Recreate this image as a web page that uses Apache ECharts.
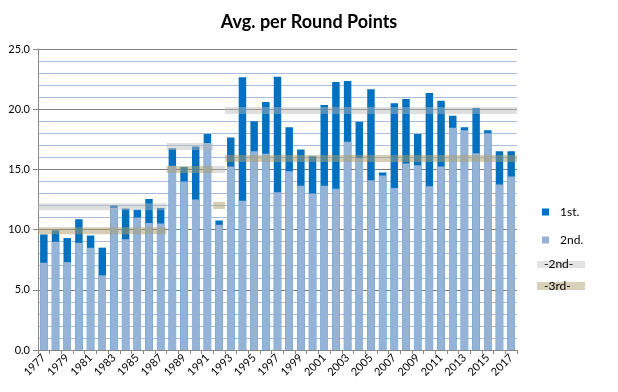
<!DOCTYPE html>
<html>
<head>
<meta charset="utf-8">
<script src="https://cdn.jsdelivr.net/npm/echarts@6/dist/echarts.min.js"></script>
<style>html,body{margin:0;padding:0;background:#fff}#c{width:618px;height:392px}</style>
</head>
<body>
<div id="c"></div>
<script>
const years = [];
for (let y = 1977; y <= 2017; y++) years.push(String(y));
// top of bar ("1st.") and top of light part ("2nd.")
const firstVals = [9.6,9.95,9.3,10.85,9.5,8.5,12.0,11.75,11.65,12.55,11.8,16.75,15.2,16.9,17.95,10.75,17.65,22.65,19.0,20.6,22.7,18.5,16.65,16.1,20.35,22.25,22.35,18.95,21.65,14.75,20.5,20.85,17.95,21.35,20.7,19.45,18.5,20.1,18.25,16.5,16.5];
const secondVals = [7.25,9.0,7.3,8.9,8.5,6.2,11.8,9.2,11.0,10.55,10.5,15.3,14.0,12.5,17.2,10.4,15.25,12.4,16.5,16.3,13.1,14.85,13.65,13.0,13.65,13.4,17.3,15.95,14.1,14.5,13.45,15.5,15.35,13.6,15.25,18.45,18.25,16.35,18.0,13.75,14.4];
// reference band segments
const segFrom = [1977,1988,1992,1993];
const segTo = [1987,1991,1992,2017];
const level2nd = [11.9,16.9,15.0,19.9];
const level3rd = [9.9,15.0,12.0,15.9];
const yTicks = [0,5,10,15,20,25];

const firstYear = 1977;
function bandData(levels){
  const out = [];
  for (let i = 0; i < segFrom.length; i++) {
    out.push([segFrom[i]-firstYear, levels[i]]);
    out.push([segTo[i]-firstYear+1, levels[i]]);
    out.push([segTo[i]-firstYear+1, '-']);
  }
  return out;
}
const gray = 'rgba(185,185,185,0.45)';
const tan = 'rgba(172,158,108,0.5)';

const chart = echarts.init(document.getElementById('c'));
chart.setOption({
  animation:false,
  title:{text:'Avg. per Round Points',left:'center',top:8,textStyle:{fontFamily:'Lato',fontWeight:'bold',fontSize:18,color:'#000'}},
  grid:{left:38,right:101,top:49,bottom:42},
  legend:{orient:'vertical',left:537,top:201,itemWidth:7,itemHeight:7,itemGap:16,icon:'rect',
    data:['1st.','2nd.'],textStyle:{fontFamily:'Lato',fontSize:12,color:'#000',padding:[4,0,0,6]}},
  xAxis:[{type:'category',data:years,
    axisLine:{lineStyle:{color:'#868686'}},
    axisTick:{show:true,interval:0,length:4,lineStyle:{color:'#868686'}},
    axisLabel:{interval:1,rotate:45,fontFamily:'Lato',fontSize:11,color:'#000',margin:6}},
   {type:'value',min:0,max:years.length,show:false}],
  yAxis:{type:'value',min:yTicks[0],max:yTicks[yTicks.length-1],interval:5,
    axisLine:{show:true,lineStyle:{color:'#868686'}},
    axisLabel:{formatter:v=>v.toFixed(1),fontFamily:'Lato',fontSize:11,color:'#000',margin:8},
    splitLine:{lineStyle:{color:'#808080'}},
    minorTick:{show:false,splitNumber:5},
    minorSplitLine:{show:true,lineStyle:{color:'#a9bde0'}}},
  series:[
    {name:'1st.',type:'bar',data:firstVals,barWidth:'64%',barGap:'-100%',itemStyle:{color:'#0070c0'},z:2},
    {name:'2nd.',type:'bar',data:secondVals,barWidth:'64%',barGap:'-100%',itemStyle:{color:'#95b3d7'},z:3},
    {name:'-2nd-',type:'line',xAxisIndex:1,data:bandData(level2nd),symbol:'none',silent:true,z:5,
      lineStyle:{color:gray,width:7,cap:'butt'}},
    {name:'-3rd-',type:'line',xAxisIndex:1,data:bandData(level3rd),symbol:'none',silent:true,z:5,
      lineStyle:{color:tan,width:7,cap:'butt'}}
  ],
  graphic:[
    {type:'rect',left:537,top:261,shape:{width:48,height:7},style:{fill:'#e3e3e3'}},
    {type:'text',left:544,top:258,style:{text:'-2nd-',font:'12px Lato',fill:'#000'}},
    {type:'rect',left:537,top:282,shape:{width:48,height:8},style:{fill:'#d8d1b9'}},
    {type:'text',left:544,top:280,style:{text:'-3rd-',font:'12px Lato',fill:'#000'}}
  ]
});
</script>
</body>
</html>
